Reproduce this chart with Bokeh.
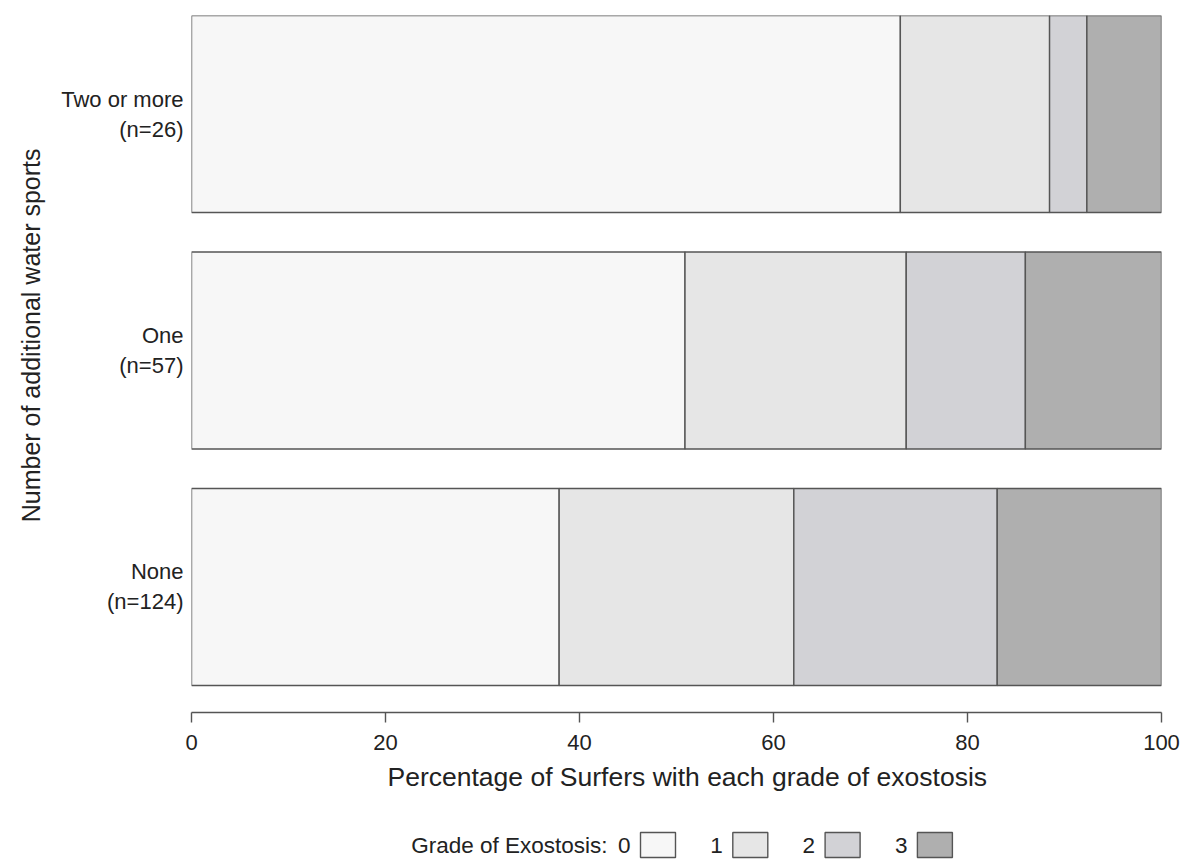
from bokeh.plotting import figure
from bokeh.models import Range1d, FixedTicker, Title, ColumnDataSource
from bokeh.layouts import column
from bokeh.embed import file_html
from bokeh.resources import INLINE
from bokeh.core.properties import value

# ---- data ----
groups = ["None", "One", "Two or more"]
n_sizes = [124, 57, 26]
grades = ["0", "1", "2", "3"]
grade0 = [47, 29, 19]
grade1 = [30, 13, 4]
grade2 = [26, 7, 1]
grade3 = [21, 8, 2]
x_ticks = [0, 20, 40, 60, 80, 100]

# ---- style ----
colors = ["#f7f7f7", "#e6e6e6", "#d2d2d6", "#afafaf"]
edge = "#555555"
txt = "#222222"
FONT = "Liberation Sans"

counts = [grade0, grade1, grade2, grade3]
ypos = [i + 1 for i in range(len(groups))]

FRAME_L, FRAME_R = 191, 1161

p = figure(width=1183, height=800, x_range=Range1d(0, 100), y_range=Range1d(0.469, 3.4167),
           output_backend="svg", toolbar_location=None,
           min_border_left=FRAME_L, min_border_right=22, min_border_top=15, min_border_bottom=88)
p.title.visible = False
p.outline_line_color = None
p.grid.visible = False

left = [0.0] * len(groups)
for g, cnt in enumerate(counts):
    pct = [c / n * 100 for c, n in zip(cnt, n_sizes)]
    right = [l + v for l, v in zip(left, pct)]
    src = ColumnDataSource(dict(y=ypos, left=left, right=right))
    p.hbar(y="y", left="left", right="right", height=0.833, source=src,
           fill_color=colors[g], line_color=edge, line_width=1.4)
    left = right

# x axis
xa = p.xaxis[0]
xa.ticker = FixedTicker(ticks=x_ticks)
xa.minor_tick_line_color = None
xa.major_tick_in = 0
xa.major_tick_out = 10
xa.axis_line_color = edge
xa.axis_line_width = 1.4
xa.major_tick_line_color = edge
xa.major_tick_line_width = 1.4
xa.major_label_text_font = FONT
xa.major_label_text_font_size = "22px"
xa.major_label_text_color = txt
xa.major_label_standoff = 12

xtitle = Title(text="Percentage of Surfers with each grade of exostosis", align="left", offset=196,
               text_font=FONT, text_font_size="26.5px", text_font_style="normal",
               text_color=txt, standoff=14)
p.add_layout(xtitle, "below")

# y axis
ya = p.yaxis[0]
ya.ticker = FixedTicker(ticks=ypos)
ya.major_label_overrides = {y: f"{g}\n(n={n})" for y, g, n in zip(ypos, groups, n_sizes)}
ya.axis_line_color = None
ya.major_tick_line_color = None
ya.minor_tick_line_color = None
ya.major_label_standoff = 2
ya.major_label_text_font = FONT
ya.major_label_text_font_size = "22px"
ya.major_label_text_color = txt
ya.major_label_text_align = "right"

ytitle = Title(text="Number of additional water sports", align="right", offset=133,
               text_font=FONT, text_font_size="25px", text_font_style="normal",
               text_color=txt, standoff=28)
p.add_layout(ytitle, "left")

# ---- legend strip (x in page pixels, frame aligned with the chart) ----
lf = figure(width=1183, height=60, x_range=Range1d(FRAME_L, FRAME_R), y_range=Range1d(0, 60),
            output_backend="svg", toolbar_location=None, min_border=0)
lf.title.visible = False
lf.axis.visible = False
lf.grid.visible = False
lf.outline_line_color = None

leg_first = 640
leg_step = 92.3
box_w, box_h, leg_y = 35, 25, 15.5
bx = [leg_first + i * leg_step + box_w / 2 for i in range(len(grades))]
tx = [leg_first + i * leg_step - 10 for i in range(len(grades))]
lf.rect(x=bx, y=[leg_y] * len(grades), width=box_w, height=box_h,
        fill_color=colors, line_color=edge, line_width=1.4)
lf.text(x=tx, y=[leg_y] * len(grades), text=grades, text_align="right", text_baseline="middle",
        text_font=value(FONT), text_font_size="22.5px", text_color=txt)
lf.text(x=[leg_first - 33], y=[leg_y], text=["Grade of Exostosis:"], text_align="right",
        text_baseline="middle", text_font=value(FONT), text_font_size="22.5px", text_color=txt)

layout = column(p, lf, spacing=0)
open("out.html", "w").write(file_html(layout, INLINE))
